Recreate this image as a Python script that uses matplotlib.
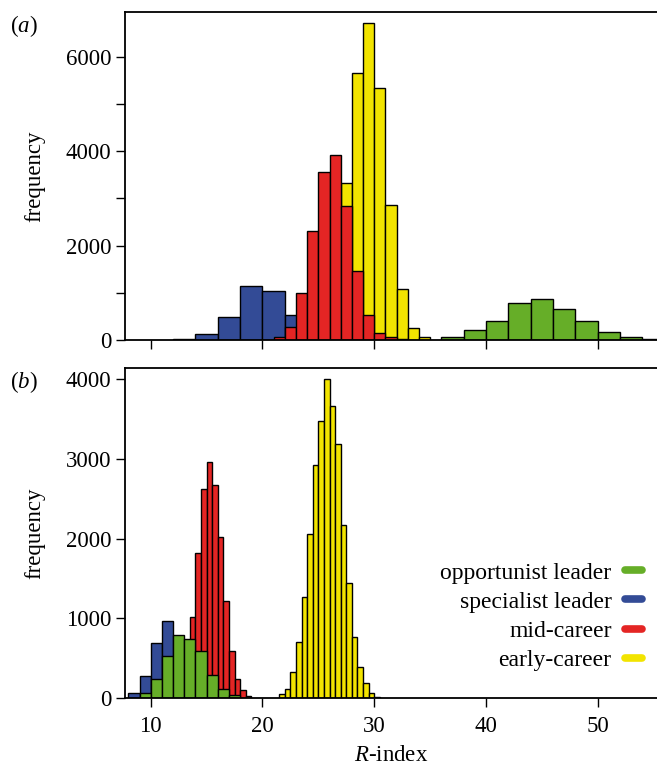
import numpy as np
import matplotlib
matplotlib.use('Agg')
from matplotlib import pyplot as plt
from matplotlib.lines import Line2D

plt.rcParams['font.family'] = ['Liberation Serif', 'DejaVu Serif']
plt.rcParams['mathtext.fontset'] = 'custom'
plt.rcParams['mathtext.rm'] = 'Liberation Serif'
plt.rcParams['mathtext.it'] = 'Liberation Serif:italic'
plt.rcParams['font.size'] = 16.5

# colours
green = '#66ae28'
blue = '#334b96'
red = '#e42524'
yellow = '#f2e400'

labels = ['opportunist leader', 'specialist leader', 'mid-career', 'early-career']

# panel (a): bin start, bin width, counts
a_blue_start, a_blue_w = 12, 2
a_blue = [30, 120, 490, 1145, 1045, 525, 200]
a_red_start, a_red_w = 21, 1
a_red = [55, 280, 1000, 2300, 3570, 3910, 2830, 1460, 525, 155, 55, 15]
a_yellow_start, a_yellow_w = 25, 1
a_yellow = [300, 1300, 3325, 5660, 6715, 5350, 2865, 1090, 250, 55]
a_green_start, a_green_w = 36, 2
a_green = [57, 212, 410, 790, 875, 656, 410, 162, 57, 15]

# panel (b)
b_blue_start, b_blue_w = 8, 1
b_blue = [63, 274, 695, 960, 500, 200, 60]
b_green_start, b_green_w = 9, 1
b_green = [63, 232, 530, 790, 740, 590, 286, 118, 34]
b_red_start, b_red_w = 12.5, 0.5
b_red = [150, 450, 1015, 1820, 2623, 2956, 2674, 2025, 1221, 590, 232, 97, 30]
b_yellow_start, b_yellow_w = 21.5, 0.5
b_yellow = [46, 118, 328, 699, 1263, 2063, 2918, 3478, 4000, 3663, 3192,
            2173, 1444, 771, 383, 194, 63, 13]


def hist(ax, start, w, vals, color):
    left = start + w * np.arange(len(vals))
    ax.bar(left, vals, width=w, align='edge', color=color,
           edgecolor='black', linewidth=1.0)


fig = plt.figure(figsize=(6.57, 7.66), dpi=100)
ax1 = fig.add_axes([0.1903, 0.5561, 0.8097, 0.4282])
ax2 = fig.add_axes([0.1903, 0.0888, 0.8097, 0.4308])

hist(ax1, a_yellow_start, a_yellow_w, a_yellow, yellow)
hist(ax1, a_blue_start, a_blue_w, a_blue, blue)
hist(ax1, a_red_start, a_red_w, a_red, red)
hist(ax1, a_green_start, a_green_w, a_green, green)

hist(ax2, b_yellow_start, b_yellow_w, b_yellow, yellow)
hist(ax2, b_red_start, b_red_w, b_red, red)
hist(ax2, b_blue_start, b_blue_w, b_blue, blue)
hist(ax2, b_green_start, b_green_w, b_green, green)

for ax in (ax1, ax2):
    ax.set_xlim(7.7, 55.3)
    ax.set_xticks([10, 20, 30, 40, 50])
    ax.spines['right'].set_visible(False)
    for s in ('left', 'bottom', 'top'):
        ax.spines[s].set_linewidth(1.3)
    ax.tick_params(direction='out', length=6.5, width=1.0)
    ax.tick_params(axis='x', pad=6.5)
    ax.set_ylabel('frequency')
    ax.yaxis.set_label_coords(-0.15, 0.5)

ax1.set_ylim(0, 6950)
ax1.set_yticks(range(0, 7000, 1000))
ax1.set_yticklabels(['0', '', '2000', '', '4000', '', '6000'])
ax1.set_xticklabels([])

ax2.set_ylim(0, 4140)
ax2.set_yticks(range(0, 5000, 1000))
ax2.set_xlabel('$R$-index', labelpad=5.5)

fig.text(0.015, 1 - 26 / 766, '($a$)', va='center', ha='left')
fig.text(0.015, 1 - 382 / 766, '($b$)', va='center', ha='left')

handles = [Line2D([], [], color=c, lw=5.5, solid_capstyle='round')
           for c in (green, blue, red, yellow)]
ax2.legend(handles, labels, loc='center right', bbox_to_anchor=(0.99, 0.247),
           frameon=False, markerfirst=False, handlelength=0.75,
           handletextpad=0.55, labelspacing=0.32, borderaxespad=0,
           fontsize=17)

fig.savefig('out.png', dpi=100)
